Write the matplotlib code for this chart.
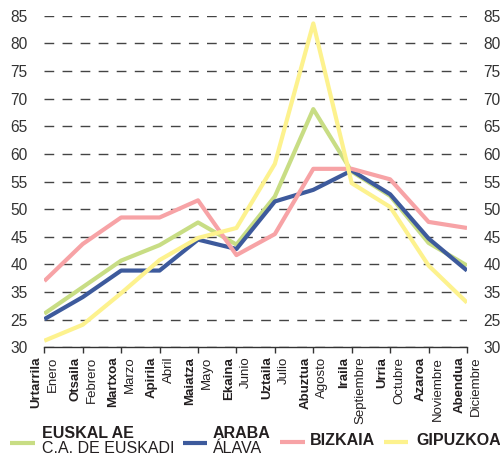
import matplotlib
matplotlib.use("Agg")
import matplotlib.pyplot as plt
from matplotlib.lines import Line2D

plt.rcParams['font.family'] = ['Liberation Sans', 'DejaVu Sans']

# month labels (Basque bold / Spanish regular)
months_eu = ["Urtarrila", "Otsaila", "Martxoa", "Apirila", "Maiatza", "Ekaina",
             "Uztaila", "Abuztua", "Iraila", "Urria", "Azaroa", "Abendua"]
months_es = ["Enero", "Febrero", "Marzo", "Abril", "Mayo", "Junio",
             "Julio", "Agosto", "Septiembre", "Octubre", "Noviembre", "Diciembre"]

# series values
euskal_ae = [31.1, 35.9, 40.7, 43.5, 47.6, 43.6, 52.3, 68.1, 56.8, 52.4, 43.9, 39.8]
araba = [30.1, 34.1, 38.9, 38.9, 44.5, 42.8, 51.4, 53.5, 57.0, 52.7, 44.7, 38.9]
bizkaia = [37.0, 43.7, 48.5, 48.5, 51.6, 41.7, 45.5, 57.3, 57.3, 55.4, 47.7, 46.6]
gipuzkoa = [26.2, 29.1, 34.8, 40.8, 44.8, 46.6, 58.2, 83.6, 54.7, 50.4, 39.8, 33.1]

# y ticks as printed in the original (25 and 30 labels swapped there)
y_ticks = [25, 30, 35, 40, 45, 50, 55, 60, 65, 70, 75, 80, 85]
y_labels = ["30", "25", "35", "40", "45", "50", "55", "60", "65", "70", "75", "80", "85"]

c_green = "#c8dd84"
c_blue = "#3d5a9c"
c_pink = "#f7a3a6"
c_yellow = "#fdf28e"
c_text = "#231f20"

W, H = 500, 469
fig = plt.figure(figsize=(W / 100, H / 100), dpi=100)
ax = fig.add_axes([44.3 / W, 1 - 347.4 / H, (467 - 44.3) / W, (347.4 - 15.7) / H])

x = list(range(len(months_eu)))
ax.plot(x, euskal_ae, color=c_green, lw=3, solid_capstyle='butt', zorder=3)
ax.plot(x, araba, color=c_blue, lw=3, solid_capstyle='butt', zorder=4)
ax.plot(x, bizkaia, color=c_pink, lw=3, solid_capstyle='butt', zorder=5)
ax.plot(x, gipuzkoa, color=c_yellow, lw=3, solid_capstyle='butt', zorder=6)

ax.set_xlim(0, 11)
ax.set_ylim(25, 85)
ax.set_yticks(y_ticks)
ax.set_yticklabels(y_labels)
ax.yaxis.grid(True, linestyle=(0, (7, 6)), linewidth=1, color="#444444", zorder=1)
ax.set_axisbelow(True)
ax.tick_params(axis='y', left=False, right=False, labelleft=True, labelright=True,
               labelsize=11.2, labelcolor="#333333", pad=8.5)

ax.set_xticks(x)
ax.set_xticklabels([])
ax.tick_params(axis='x', direction='out', length=4, width=1, color="#333333")

for s in ["left", "right", "top"]:
    ax.spines[s].set_visible(False)
ax.spines["bottom"].set_color("#333333")
ax.spines["bottom"].set_linewidth(1)

for i in x:
    ax.annotate(months_eu[i], xy=(i, 0), xycoords=('data', 'axes fraction'),
                xytext=(-5.5, -6.7), textcoords='offset points', rotation=90,
                ha='center', va='top', fontsize=9.5, fontweight='bold', color=c_text)
    ax.annotate(months_es[i], xy=(i, 0), xycoords=('data', 'axes fraction'),
                xytext=(6.5, -6.7), textcoords='offset points', rotation=90,
                ha='center', va='top', fontsize=9.5, color=c_text)

# legend drawn by hand (two-line labels with mixed weight)
def swatch(x0, x1, y, color):
    fig.add_artist(Line2D([x0 / W, x1 / W], [1 - y / H, 1 - y / H], color=color,
                          lw=3, solid_capstyle='butt', transform=fig.transFigure))

def label(x0, y, text, bold):
    fig.text(x0 / W, 1 - y / H, text, ha='left', va='center', fontsize=11.5,
             fontweight='bold' if bold else 'normal', color=c_text)

swatch(10, 35, 442.7, c_green)
label(41.7, 433, "EUSKAL AE", True)
label(41.7, 448, "C.A. DE EUSKADI", False)

swatch(183, 207, 442.7, c_blue)
label(213, 433, "ARABA", True)
label(213, 448, "ÁLAVA", False)

swatch(280, 305, 441.7, c_pink)
label(310, 440, "BIZKAIA", True)

swatch(384, 408, 441.7, c_yellow)
label(416.7, 440, "GIPUZKOA", True)

fig.savefig("out.png", dpi=100)
